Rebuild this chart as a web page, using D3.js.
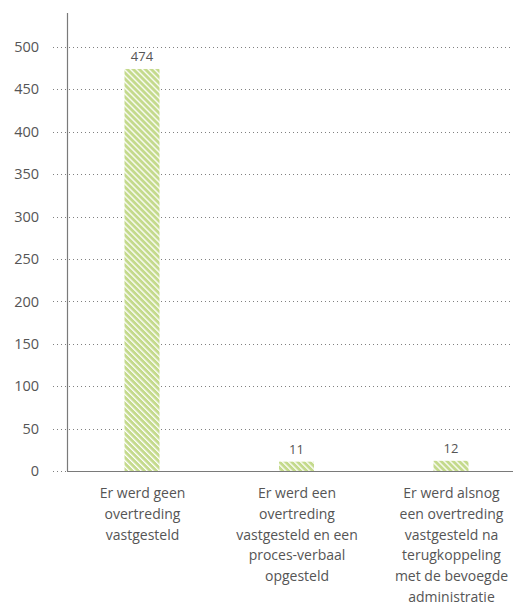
<!DOCTYPE html>
<html>
<head>
<meta charset="utf-8">
<script src="https://cdn.jsdelivr.net/npm/d3@7"></script>
<style>
  html, body { margin: 0; padding: 0; background: #fff; }
  svg { display: block; font-family: "Open Sans", "Noto Sans", sans-serif; }
</style>
</head>
<body>
<svg id="chart" width="513" height="605"></svg>
<script>
const categories = [
  "Er werd geen overtreding vastgesteld",
  "Er werd een overtreding vastgesteld en een proces-verbaal opgesteld",
  "Er werd alsnog een overtreding vastgesteld na terugkoppeling met de bevoegde administratie"
];
const categoryLines = [
  ["Er werd geen", "overtreding", "vastgesteld"],
  ["Er werd een", "overtreding", "vastgesteld en een", "proces-verbaal", "opgesteld"],
  ["Er werd alsnog", "een overtreding", "vastgesteld na", "terugkoppeling", "met de bevoegde", "administratie"]
];
const values = [474, 11, 12];
const yTicks = [0, 50, 100, 150, 200, 250, 300, 350, 400, 450, 500];

const svg = d3.select("#chart");
const textColor = "#555555";
const green = "#c4da8c";
const font = "'Open Sans', 'Noto Sans', sans-serif";

// hatch pattern
const defs = svg.append("defs");
const pat = defs.append("pattern")
  .attr("id", "hatch")
  .attr("patternUnits", "userSpaceOnUse")
  .attr("width", 4.25).attr("height", 4.25)
  .attr("patternTransform", "rotate(-45)");
pat.append("rect").attr("width", 4.25).attr("height", 4.25).attr("fill", green);
pat.append("rect").attr("x", 0).attr("width", 1.3).attr("height", 4.25).attr("fill", "#ffffff");

const x = d3.scalePoint().domain(categories).range([142, 451]);
const barW = 35;
const y = d3.scaleLinear().domain([0, 540]).range([471, 13]);

// gridlines (dotted)
svg.append("g").selectAll("line")
  .data(yTicks)
  .join("line")
  .attr("x1", 53).attr("x2", 513)
  .attr("y1", d => Math.round(y(d)) + 0.5).attr("y2", d => Math.round(y(d)) + 0.5)
  .attr("stroke", "#808080")
  .attr("stroke-width", 1)
  .attr("stroke-dasharray", "1,3");

// y-axis tick labels
const yAxis = d3.axisLeft(y).tickValues(yTicks).tickSize(0).tickPadding(0);
const gy = svg.append("g").attr("transform", "translate(39,0)").call(yAxis);
gy.select(".domain").remove();
gy.selectAll("text")
  .attr("fill", textColor)
  .style("font-size", "14.5px")
  .style("font-family", font);

// bars
svg.append("g").selectAll("rect")
  .data(values)
  .join("rect")
  .attr("x", (d, i) => x(categories[i]) - barW / 2)
  .attr("width", barW)
  .attr("y", d => y(d))
  .attr("height", d => y(0) - y(d))
  .attr("fill", "url(#hatch)");

// value labels
svg.append("g").selectAll("text")
  .data(values)
  .join("text")
  .attr("x", (d, i) => x(categories[i]))
  .attr("y", d => y(d) - 8)
  .attr("text-anchor", "middle")
  .attr("fill", textColor)
  .style("font-size", "13px")
  .style("font-family", font)
  .text(d => d);

// axes lines
svg.append("line")
  .attr("x1", 67.5).attr("x2", 67.5)
  .attr("y1", y(540)).attr("y2", y(0))
  .attr("stroke", "#7a7a7a").attr("stroke-width", 1.2);
svg.append("line")
  .attr("x1", 67).attr("x2", 513)
  .attr("y1", y(0) + 0.5).attr("y2", y(0) + 0.5)
  .attr("stroke", "#7a7a7a").attr("stroke-width", 1.2);

// category labels
const xAxis = d3.axisBottom(x).tickSize(0).tickFormat(() => "");
const gx = svg.append("g").attr("transform", `translate(0,${y(0)})`).call(xAxis);
gx.select(".domain").remove();
gx.selectAll(".tick").each(function(d, i) {
  const t = d3.select(this).append("text")
    .attr("text-anchor", "middle")
    .attr("fill", textColor)
    .style("font-size", "14px")
    .style("font-family", font);
  categoryLines[i].forEach((line, j) => {
    t.append("tspan").attr("x", 0).attr("y", 27 + j * 20.8).text(line);
  });
});
</script>
</body>
</html>
